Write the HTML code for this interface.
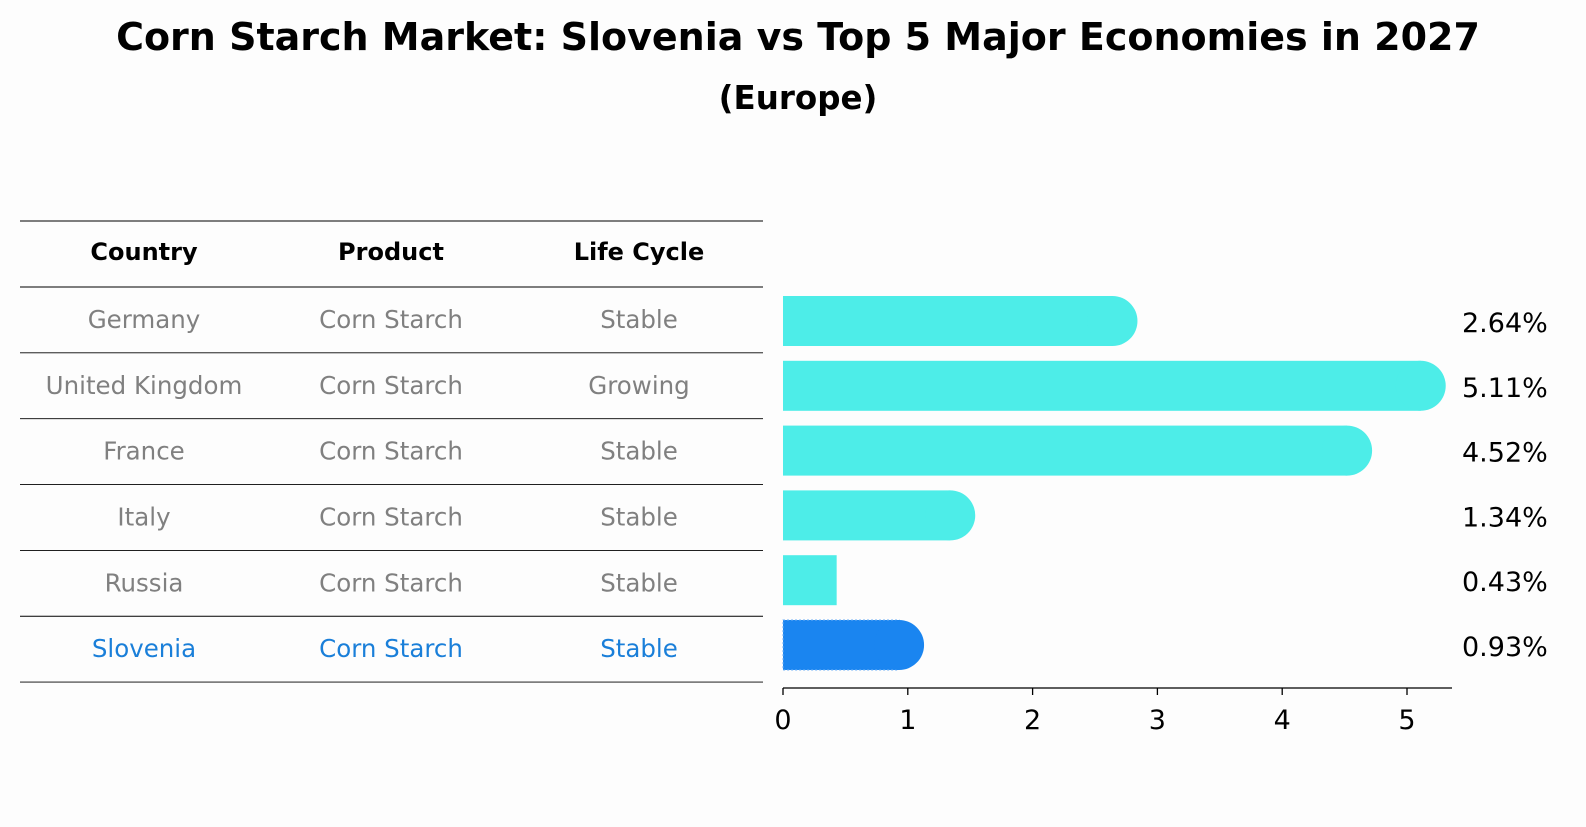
<!DOCTYPE html>
<html><head><meta charset="utf-8"><style>
body{margin:0;background:#fdfdfd;font-family:"DejaVu Sans","Liberation Sans",sans-serif;}
#wrap{position:relative;width:1586px;height:823px;}
</style></head><body>
<div id="wrap">
<svg id="svg" width="1586" height="823" xmlns="http://www.w3.org/2000/svg">
<text x="798" y="50" text-anchor="middle" font-size="38" font-weight="bold" fill="#000">Corn Starch Market: Slovenia vs Top 5 Major Economies in 2027</text>
<text x="798" y="109" text-anchor="middle" font-size="32.5" font-weight="bold" fill="#000">(Europe)</text>
<g id="table"></g>
<g id="bars"></g>
<g id="axis"></g>
</svg>
</div>
<script>
const countries=["Germany","United Kingdom","France","Italy","Russia","Slovenia"];
const products=["Corn Starch","Corn Starch","Corn Starch","Corn Starch","Corn Starch","Corn Starch"];
const lifeCycles=["Stable","Growing","Stable","Stable","Stable","Stable"];
const values=[2.64,5.11,4.52,1.34,0.43,0.93];
const tickValues=[0,1,2,3,4,5];
const highlight="Slovenia";

const NS="http://www.w3.org/2000/svg";
function mk(tag,attrs,parent,text){const e=document.createElementNS(NS,tag);for(const k in attrs)e.setAttribute(k,attrs[k]);if(text!==undefined)e.textContent=text;parent.appendChild(e);return e;}
const x0=783,pxPerUnit=124.8;
const xScale=v=>x0+v*pxPerUnit;
const rowY=i=>321+i*64.8;
const barH=50;

const table=document.getElementById('table');
const colX=[144,391,639];
const rowTop=287,rowStep=65.85;
const lineYs=[221];
for(let i=0;i<=countries.length;i++)lineYs.push(rowTop+i*rowStep);
lineYs.forEach(y=>{const l=mk('line',{x1:20,x2:763,y1:y,y2:y,stroke:'#000','stroke-width':0.9},table);

});
["Country","Product","Life Cycle"].forEach((h,i)=>{const t=mk('text',{x:colX[i],y:260,'text-anchor':'middle','font-size':24,'font-weight':'bold',fill:'#000'},table,h);

});
countries.forEach((c,i)=>{
  const y=rowTop+(i+0.5)*rowStep+8;
  const col=c===highlight?'#1a7fd9':'#808080';
  [c,products[i],lifeCycles[i]].forEach((v,j)=>{const t=mk('text',{x:colX[j],y:y,'text-anchor':'middle','font-size':24.5,fill:col},table,v);
  
  });
});

const bars=document.getElementById('bars');
values.forEach((v,i)=>{
  const hl=countries[i]===highlight;
  const c=hl?'#1a85f0':'#4dede8';
  const cy=rowY(i);
  const xe=xScale(v);
  const r=mk('rect',{x:x0,y:cy-barH/2,width:xe-x0,height:barH,fill:c},bars);
  if(hl){r.setAttribute('stroke','#6fb0f5');r.setAttribute('stroke-dasharray','2,2');r.setAttribute('stroke-width','1');}
  
  
  if(v>0.5){const cap=mk('circle',{cx:xe,cy:cy,r:barH/2,fill:c},bars);
    
    }
  const t=mk('text',{x:1462,y:cy+11,'font-size':27,fill:'#000'},bars,v.toFixed(2)+'%');
  
  
});

const axis=document.getElementById('axis');
const al=mk('line',{x1:x0,x2:1452,y1:688,y2:688,stroke:'#000','stroke-width':1.3},axis);


tickValues.forEach(v=>{const x=xScale(v);
  const tk=mk('line',{x1:x,x2:x,y1:688,y2:695,stroke:'#000','stroke-width':1.3},axis);
  
  
  const t=mk('text',{x:x,y:729,'text-anchor':'middle','font-size':27,fill:'#000'},axis,String(v));
  
  });
</script>
</body></html>
